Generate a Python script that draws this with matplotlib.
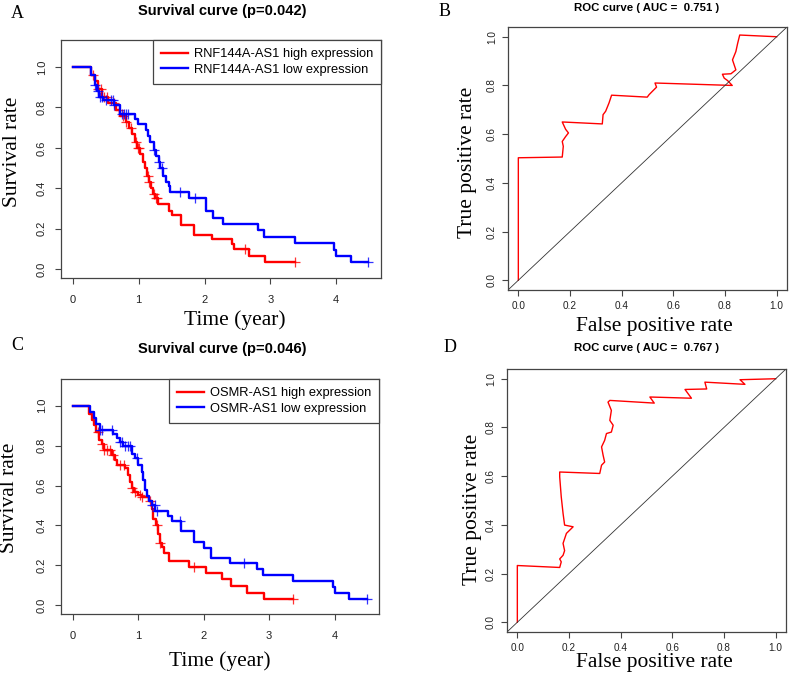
import numpy as np
import matplotlib
matplotlib.use('Agg')
import matplotlib.pyplot as plt

SERIF = 'Liberation Serif'
SANS = 'Liberation Sans'
BOX = '#444444'

# ---- Panel A: RNF144A-AS1 survival (time in years, survival rate) ----
a_high_t = [0, 0.28, 0.33, 0.38, 0.45, 0.53, 0.65, 0.72, 0.80, 0.86, 0.90, 0.94, 0.98, 1.02, 1.06,
            1.09, 1.12, 1.15, 1.18, 1.21, 1.25, 1.30, 1.46, 1.51, 1.65, 1.84, 2.12, 2.42, 2.44, 2.67, 2.92]
a_high_s = [1.0, 0.96, 0.93, 0.89, 0.85, 0.82, 0.79, 0.76, 0.73, 0.70, 0.67, 0.63, 0.60, 0.57, 0.53,
            0.50, 0.46, 0.43, 0.40, 0.37, 0.35, 0.32, 0.29, 0.27, 0.22, 0.17, 0.148, 0.123, 0.099, 0.066, 0.033]
a_high_end = 3.38
a_high_cens = [0.30, 0.38, 0.43, 0.47, 0.52, 0.62, 0.70, 0.76, 0.81, 0.885, 0.96, 0.985, 1.01,
               1.14, 1.16, 1.24, 1.26, 1.28, 2.61, 3.38]

a_low_t = [0, 0.28, 0.33, 0.37, 0.40, 0.46, 0.63, 0.71, 0.94, 0.99, 1.11, 1.14, 1.17, 1.24, 1.27,
           1.31, 1.33, 1.37, 1.41, 1.46, 1.48, 1.76, 2.02, 2.13, 2.28, 2.81, 2.91, 3.38, 3.97, 4.0, 4.22]
a_low_s = [1.0, 0.96, 0.91, 0.88, 0.85, 0.835, 0.81, 0.77, 0.745, 0.72, 0.69, 0.66, 0.63, 0.59, 0.56,
           0.53, 0.50, 0.46, 0.43, 0.41, 0.38, 0.353, 0.287, 0.254, 0.223, 0.193, 0.16, 0.128, 0.095, 0.066, 0.034]
a_low_end = 4.49
a_low_cens = [0.33, 0.38, 0.41, 0.45, 0.50, 0.58, 0.61, 0.63, 0.75, 0.78, 0.80, 0.83, 1.24, 1.31,
              1.36, 1.63, 1.86, 4.49]

# ---- Panel C: OSMR-AS1 survival ----
c_high_t = [0, 0.255, 0.29, 0.33, 0.36, 0.40, 0.44, 0.47, 0.60, 0.65, 0.67, 0.80, 0.84, 0.88, 0.90,
            0.94, 1.00, 1.06, 1.17, 1.21, 1.23, 1.27, 1.30, 1.33, 1.36, 1.39, 1.47, 1.77, 2.03, 2.28,
            2.42, 2.67, 2.92]
c_high_s = [1.0, 0.96, 0.93, 0.905, 0.87, 0.83, 0.81, 0.78, 0.755, 0.73, 0.705, 0.69, 0.655, 0.62, 0.59,
            0.57, 0.555, 0.54, 0.52, 0.48, 0.43, 0.40, 0.355, 0.31, 0.29, 0.26, 0.22, 0.19, 0.16, 0.13,
            0.097, 0.063, 0.033]
c_high_end = 3.37
c_high_cens = [0.39, 0.44, 0.47, 0.52, 0.57, 0.62, 0.72, 0.78, 0.90, 0.95, 1.03, 1.06, 1.18, 1.29,
               1.34, 1.85, 3.37]

c_low_t = [0, 0.265, 0.32, 0.36, 0.41, 0.61, 0.67, 0.72, 0.775, 0.90, 0.95, 1.00, 1.06, 1.08, 1.11,
           1.13, 1.17, 1.21, 1.26, 1.46, 1.52, 1.65, 1.85, 2.01, 2.11, 2.41, 2.81, 2.91, 3.37, 3.97,
           4.0, 4.22]
c_low_s = [1.0, 0.97, 0.94, 0.91, 0.88, 0.86, 0.84, 0.82, 0.80, 0.76, 0.74, 0.705, 0.67, 0.63, 0.58,
           0.547, 0.52, 0.50, 0.47, 0.445, 0.42, 0.37, 0.318, 0.288, 0.237, 0.21, 0.182, 0.15, 0.12, 0.09,
           0.06, 0.03]
c_low_end = 4.5
c_low_cens = [0.41, 0.44, 0.60, 0.72, 0.75, 0.80, 0.85, 0.87, 0.98, 1.21, 1.25, 1.29, 1.64, 2.61, 4.5]

# ---- Panel B / D: ROC curves ----
b_fpr = [0, 0, 0.17, 0.174, 0.17, 0.183, 0.194, 0.183, 0.17, 0.325, 0.328, 0.338, 0.351, 0.361,
         0.499, 0.506, 0.519, 0.535, 0.529, 0.828, 0.81, 0.797, 0.79, 0.823, 0.842, 0.829, 0.842,
         0.849, 0.857, 1.0]
b_tpr = [0, 0.503, 0.506, 0.55, 0.57, 0.59, 0.605, 0.62, 0.65, 0.642, 0.68, 0.694, 0.728, 0.76,
         0.752, 0.762, 0.776, 0.793, 0.81, 0.80, 0.82, 0.83, 0.846, 0.848, 0.864, 0.905, 0.939,
         0.973, 1.007, 1.0]
b_auc = 0.751

d_fpr = [0, 0, 0.164, 0.17, 0.164, 0.177, 0.183, 0.177, 0.19, 0.216, 0.183, 0.177, 0.17, 0.164,
         0.164, 0.319, 0.326, 0.338, 0.332, 0.326, 0.338, 0.345, 0.364, 0.371, 0.358, 0.364, 0.351,
         0.358, 0.53, 0.513, 0.674, 0.649, 0.733, 0.726, 0.881, 0.862, 1.0]
d_tpr = [0, 0.233, 0.225, 0.248, 0.26, 0.275, 0.294, 0.324, 0.365, 0.392, 0.399, 0.447, 0.515, 0.597,
         0.617, 0.611, 0.645, 0.658, 0.686, 0.72, 0.747, 0.775, 0.781, 0.809, 0.829, 0.87, 0.904,
         0.911, 0.90, 0.925, 0.92, 0.956, 0.958, 0.986, 0.977, 0.996, 1.0]
d_auc = 0.767


def style_box(ax, tick_size, xpad, ypad):
    for sp in ax.spines.values():
        sp.set_color(BOX)
        sp.set_linewidth(0.9)
    ax.tick_params(length=4.5, width=0.8, color=BOX, labelsize=tick_size,
                   labelcolor='#222222')
    ax.tick_params(axis='x', pad=xpad)
    ax.tick_params(axis='y', pad=ypad)
    for lab in ax.get_xticklabels() + ax.get_yticklabels():
        lab.set_fontfamily(SANS)


def km_panel(ax, high, low, names):
    for (t, s, end, cens), col, name in zip((high, low), ('#ff0000', '#0000ff'), names):
        tt = np.append(t, end)
        ss = np.append(s, s[-1])
        ax.step(tt, ss, where='post', color=col, lw=1.7, label=name)
        idx = np.searchsorted(tt, cens, side='right') - 1
        ax.plot(cens, ss[idx], ls='none', marker='+', ms=7, mew=0.9, color=col, alpha=0.8)
    ax.set_xlim(-0.18, 4.68)
    ax.set_ylim(-0.044, 1.134)
    ax.set_xticks([0, 1, 2, 3, 4])
    yt = [0.0, 0.2, 0.4, 0.6, 0.8, 1.0]
    ax.set_yticks(yt, labels=[f'{v:.1f}' for v in yt], rotation=90, va='center')
    style_box(ax, 8, 7.5, 5.5)
    leg = ax.legend(loc='upper right', borderaxespad=0, fancybox=False, edgecolor=BOX,
                    prop={'family': SANS, 'size': 9.3}, handlelength=2.1, handletextpad=0.45,
                    borderpad=0.62, labelspacing=0.3, framealpha=1)
    leg.get_frame().set_linewidth(0.9)


def roc_panel(ax, fpr, tpr):
    ax.plot(fpr, tpr, color='#ff0000', lw=1.0)
    ax.axline((0, 0), slope=1, color='#333333', lw=0.6)
    ax.set_xlim(-0.04, 1.04)
    ax.set_ylim(-0.04, 1.04)
    ticks = [0.0, 0.2, 0.4, 0.6, 0.8, 1.0]
    ax.set_xticks(ticks, labels=[f'{v:.1f}' for v in ticks])
    ax.set_yticks(ticks, labels=[f'{v:.1f}' for v in ticks], rotation=90, va='center')
    style_box(ax, 7.2, 3.5, 3.5)


W, H = 790, 675
fig = plt.figure(figsize=(W / 100, H / 100), dpi=100)


def px_axes(x0, y0, x1, y1):
    return fig.add_axes([x0 / W, 1 - y1 / H, (x1 - x0) / W, (y1 - y0) / H])


def ftext(x, y, s, **kw):
    fig.text(x / W, 1 - y / H, s, ha='center', va='center', **kw)


axA = px_axes(61, 40, 381, 278)
km_panel(axA, (a_high_t, a_high_s, a_high_end, a_high_cens),
         (a_low_t, a_low_s, a_low_end, a_low_cens),
         ('RNF144A-AS1 high expression', 'RNF144A-AS1 low expression'))

axB = px_axes(508, 27, 787, 290)
roc_panel(axB, b_fpr, b_tpr)

axC = px_axes(61, 379, 379, 614)
km_panel(axC, (c_high_t, c_high_s, c_high_end, c_high_cens),
         (c_low_t, c_low_s, c_low_end, c_low_cens),
         ('OSMR-AS1 high expression', 'OSMR-AS1 low expression'))

axD = px_axes(507, 369, 786, 632)
roc_panel(axD, d_fpr, d_tpr)

# titles
ftext(222, 11, 'Survival curve (p=0.042)', family=SANS, weight='bold', size=10.5)
ftext(222, 349, 'Survival curve (p=0.046)', family=SANS, weight='bold', size=10.5)
ftext(647, 8, f'ROC curve ( AUC =  {b_auc:.3f} )', family=SANS, weight='bold', size=8.2)
ftext(647, 348, f'ROC curve ( AUC =  {d_auc:.3f} )', family=SANS, weight='bold', size=8.2)

# panel letters
ftext(17, 13, 'A', family=SERIF, size=13)
ftext(445, 11, 'B', family=SERIF, size=13)
ftext(17, 345, 'C', family=SERIF, size=13)
ftext(450, 347, 'D', family=SERIF, size=13)

# axis labels
ftext(235, 320, 'Time (year)', family=SERIF, size=15.5)
ftext(220, 661, 'Time (year)', family=SERIF, size=15.5)
ftext(13, 152, 'Survival rate', family=SERIF, size=15.5, rotation=90)
ftext(10, 498, 'Survival rate', family=SERIF, size=15.5, rotation=90)
ftext(654, 327, 'False positive rate', family=SERIF, size=15.5)
ftext(654, 662, 'False positive rate', family=SERIF, size=15.5)
ftext(467, 162, 'True positive rate', family=SERIF, size=15.5, rotation=90)
ftext(472, 509, 'True positive rate', family=SERIF, size=15.5, rotation=90)

fig.savefig('out.png', dpi=100)
